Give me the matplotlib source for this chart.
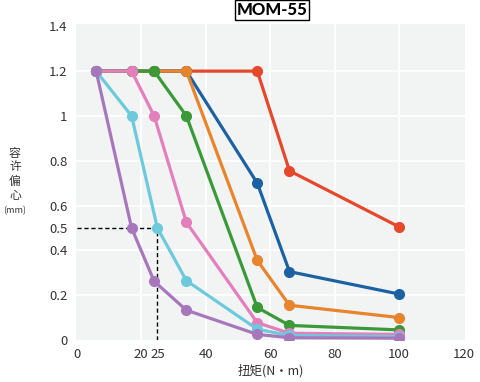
import matplotlib
matplotlib.use("Agg")
import matplotlib.pyplot as plt

plt.rcParams['font.family'] = ['Noto Sans CJK SC', 'DejaVu Sans']

x_std = [6, 17, 24, 34, 56, 66, 100]
x_cyan = [6, 17, 25, 34, 56, 66, 100]

red = [1.2, 1.2, 1.2, 1.2, 1.2, 0.755, 0.505]
blue = [1.2, 1.2, 1.2, 1.2, 0.70, 0.305, 0.205]
orange = [1.2, 1.2, 1.2, 1.2, 0.355, 0.155, 0.10]
green = [1.2, 1.2, 1.2, 1.0, 0.145, 0.065, 0.045]
pink = [1.2, 1.2, 1.0, 0.525, 0.077, 0.03, 0.025]
cyan = [1.2, 1.0, 0.5, 0.265, 0.048, 0.02, 0.015]
purple = [1.2, 0.5, 0.262, 0.133, 0.025, 0.01, 0.008]

series = [
    (x_std, red, '#e5482a'),
    (x_std, blue, '#1c62a3'),
    (x_std, orange, '#e8842c'),
    (x_std, green, '#3a9a37'),
    (x_std, pink, '#e37fbd'),
    (x_cyan, cyan, '#6ccadc'),
    (x_std, purple, '#a777bc'),
]

xticks = [0, 20, 25, 40, 60, 80, 100, 120]
xticklabels = ['0', '20', '25', '40', '60', '80', '100', '120']
yticks = [0, 0.2, 0.4, 0.5, 0.6, 0.8, 1.0, 1.2, 1.4]
yticklabels = ['0', '0.2', '0.4', '0.5', '0.6', '0.8', '1', '1.2', '1.4']
ylabel_chars = ['容', '许', '偏', '心']
ylabel_unit = '(mm)'

fig = plt.figure(figsize=(4.8, 3.82), dpi=100)
ax = fig.add_axes([0.158, 0.11, 0.811, 0.827])
ax.set_facecolor('#f2f4f4')
for s in ax.spines.values():
    s.set_visible(False)

for gx in [20, 40, 60, 80, 100]:
    ax.axvline(gx, color='white', lw=1.3, zorder=0)
for gy in [0.2, 0.4, 0.6, 0.8, 1.0, 1.2]:
    ax.axhline(gy, color='white', lw=1.3, zorder=0)

ax.plot([0, 25], [0.5, 0.5], ls=(0, (3, 2)), color='black', lw=1.0, zorder=1)
ax.plot([25, 25], [0, 0.5], ls=(0, (3, 2)), color='black', lw=1.0, zorder=1)

for i, (xs, ys, c) in enumerate(series):
    ax.plot(xs, ys, color=c, lw=2.3, marker='o', ms=7.0, zorder=2 + i)

ax.set_xlim(-0.3, 120.5)
ax.set_ylim(0, 1.41)
ax.set_xticks(xticks)
ax.set_xticklabels(xticklabels)
ax.set_yticks(yticks)
ax.set_yticklabels(yticklabels)
ax.tick_params(length=0, labelsize=9.5, colors='#333333', pad=6)

ax.set_xlabel('扭矩(N·m)', fontsize=9, color='#333333', labelpad=2)

H = 382.0
for k, ch in enumerate(ylabel_chars):
    fig.text(0.031, 1 - (153 + 14 * k) / H, ch, ha='center', va='center',
             fontsize=8.5, color='#333333')
fig.text(0.031, 1 - 211 / H, ylabel_unit, ha='center', va='center',
         fontsize=6.5, color='#333333')

fig.text(0.567, 0.974, 'MOM-55', ha='center', va='center', fontsize=12,
         fontweight='black', color='black', family=['Lato', 'DejaVu Sans'],
         bbox=dict(boxstyle='square,pad=0.1', fc='white', ec='black', lw=1.0))

fig.savefig('out.png', dpi=100)
